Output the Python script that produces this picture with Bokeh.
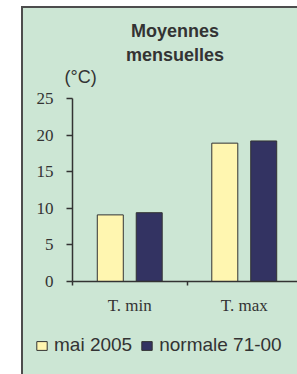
from bokeh.plotting import figure
from bokeh.models import (Range1d, FixedTicker, LinearAxis, Legend, LegendItem,
                          ColumnDataSource, Label)
from bokeh.layouts import column, row
from bokeh.transform import dodge
from bokeh.embed import file_html
from bokeh.resources import INLINE

# ---- data ----
categories = ["T. min", "T. max"]
mai_2005 = [9.1, 18.9]
normale_71_00 = [9.4, 19.2]
series_names = ["mai 2005", "normale 71-00"]
y_ticks = [0, 5, 10, 15, 20, 25]
title_lines = ["Moyennes", "mensuelles"]
unit_label = "(°C)"

GREEN = "#CCE6D4"
YELLOW = "#FFF6B0"
NAVY = "#333362"
DARK = "#333333"
BORDER = "#4D4D4D"

positions = [i + 0.5 for i in range(len(categories))]
boundaries = [i for i in range(len(categories) + 1)]
src = ColumnDataSource(dict(x=positions, mai=mai_2005, norm=normale_71_00))

W = 274

# ---- heading strip (pixel-like coordinates, y upwards) ----
HT = 80
pt = figure(width=W, height=HT, output_backend="svg", toolbar_location=None,
            x_range=Range1d(0, W), y_range=Range1d(0, HT),
            x_axis_type=None, y_axis_type=None,
            min_border_left=0, min_border_right=0, min_border_top=0, min_border_bottom=0,
            background_fill_color=GREEN, border_fill_color=GREEN, outline_line_color=None)
for txt, yy in zip(title_lines, [57.3, 34.0]):
    pt.add_layout(Label(x=151.5, y=yy, text=txt, text_align="center",
                        text_baseline="alphabetic", text_font="Liberation Sans",
                        text_font_style="bold", text_font_size="18px", text_color=DARK))
pt.add_layout(Label(x=41, y=12, text=unit_label, text_align="left",
                    text_baseline="alphabetic", text_font="Liberation Sans",
                    text_font_size="18px", text_color=DARK))

# ---- main chart ----
p = figure(width=W, height=237, output_backend="svg", toolbar_location=None,
           x_range=Range1d(0, 1.965), y_range=Range1d(0, 25),
           x_axis_type=None, y_axis_type=None,
           min_border_left=49, min_border_right=0, min_border_top=10, min_border_bottom=44,
           background_fill_color=GREEN, border_fill_color=GREEN, outline_line_color=None)

r1 = p.vbar(x=dodge("x", -0.17, range=p.x_range), top="mai", width=0.227, source=src,
            fill_color=YELLOW, line_color=DARK, line_width=1)
r2 = p.vbar(x=dodge("x", 0.17, range=p.x_range), top="norm", width=0.227, source=src,
            fill_color=NAVY, line_color=DARK, line_width=1)

yaxis = LinearAxis(ticker=FixedTicker(ticks=y_ticks), major_tick_out=6, major_tick_in=0,
                   minor_tick_out=0, minor_tick_in=0,
                   axis_line_color=DARK, axis_line_width=1.5,
                   major_tick_line_color=DARK, major_tick_line_width=1.5,
                   major_label_text_font="Liberation Serif", major_label_text_font_size="17px",
                   major_label_text_color=DARK, major_label_standoff=13)
p.add_layout(yaxis, "left")

xaxis = LinearAxis(ticker=FixedTicker(ticks=positions, minor_ticks=boundaries),
                   major_tick_out=0, major_tick_in=0, major_tick_line_color=None,
                   minor_tick_out=4, minor_tick_in=0, minor_tick_line_color=DARK,
                   minor_tick_line_width=1.5,
                   axis_line_color=DARK, axis_line_width=1.5,
                   major_label_overrides={pos: c for pos, c in zip(positions, categories)},
                   major_label_text_font="Liberation Serif", major_label_text_font_size="17px",
                   major_label_text_color=DARK, major_label_standoff=10)
p.add_layout(xaxis, "below")

# ---- legend strip (its bars lie out of its view; only the legend shows) ----
pl = figure(width=W, height=49, output_backend="svg", toolbar_location=None,
            x_range=Range1d(0, 2), y_range=Range1d(100, 101),
            x_axis_type=None, y_axis_type=None,
            min_border_left=0, min_border_right=0, min_border_top=0, min_border_bottom=0,
            background_fill_color=GREEN, border_fill_color=GREEN, outline_line_color=None)
k1 = pl.vbar(x="x", top="mai", width=0.2, source=src,
             fill_color=YELLOW, line_color=DARK, line_width=1)
k2 = pl.vbar(x="x", top="norm", width=0.2, source=src,
             fill_color=NAVY, line_color=DARK, line_width=1)
legend = Legend(items=[LegendItem(label=series_names[0], renderers=[k1]),
                       LegendItem(label=series_names[1], renderers=[k2])],
                orientation="horizontal", location=(12, 18), padding=0, margin=0,
                spacing=8, label_standoff=6, glyph_width=13, glyph_height=11,
                label_height=20, background_fill_alpha=0, border_line_color=None,
                label_text_font="Liberation Sans", label_text_font_size="19px",
                label_text_color=DARK)
pl.add_layout(legend)

layout = column(row(pt, styles={"background-color": GREEN}), p,
                row(pl, styles={"background-color": GREEN}),
                styles={"margin-left": "21px", "margin-top": "6px",
                        "background-color": GREEN,
                        "border-left": f"2px solid {BORDER}",
                        "border-top": f"2px solid {BORDER}"})

open("out.html", "w").write(file_html(layout, INLINE))
